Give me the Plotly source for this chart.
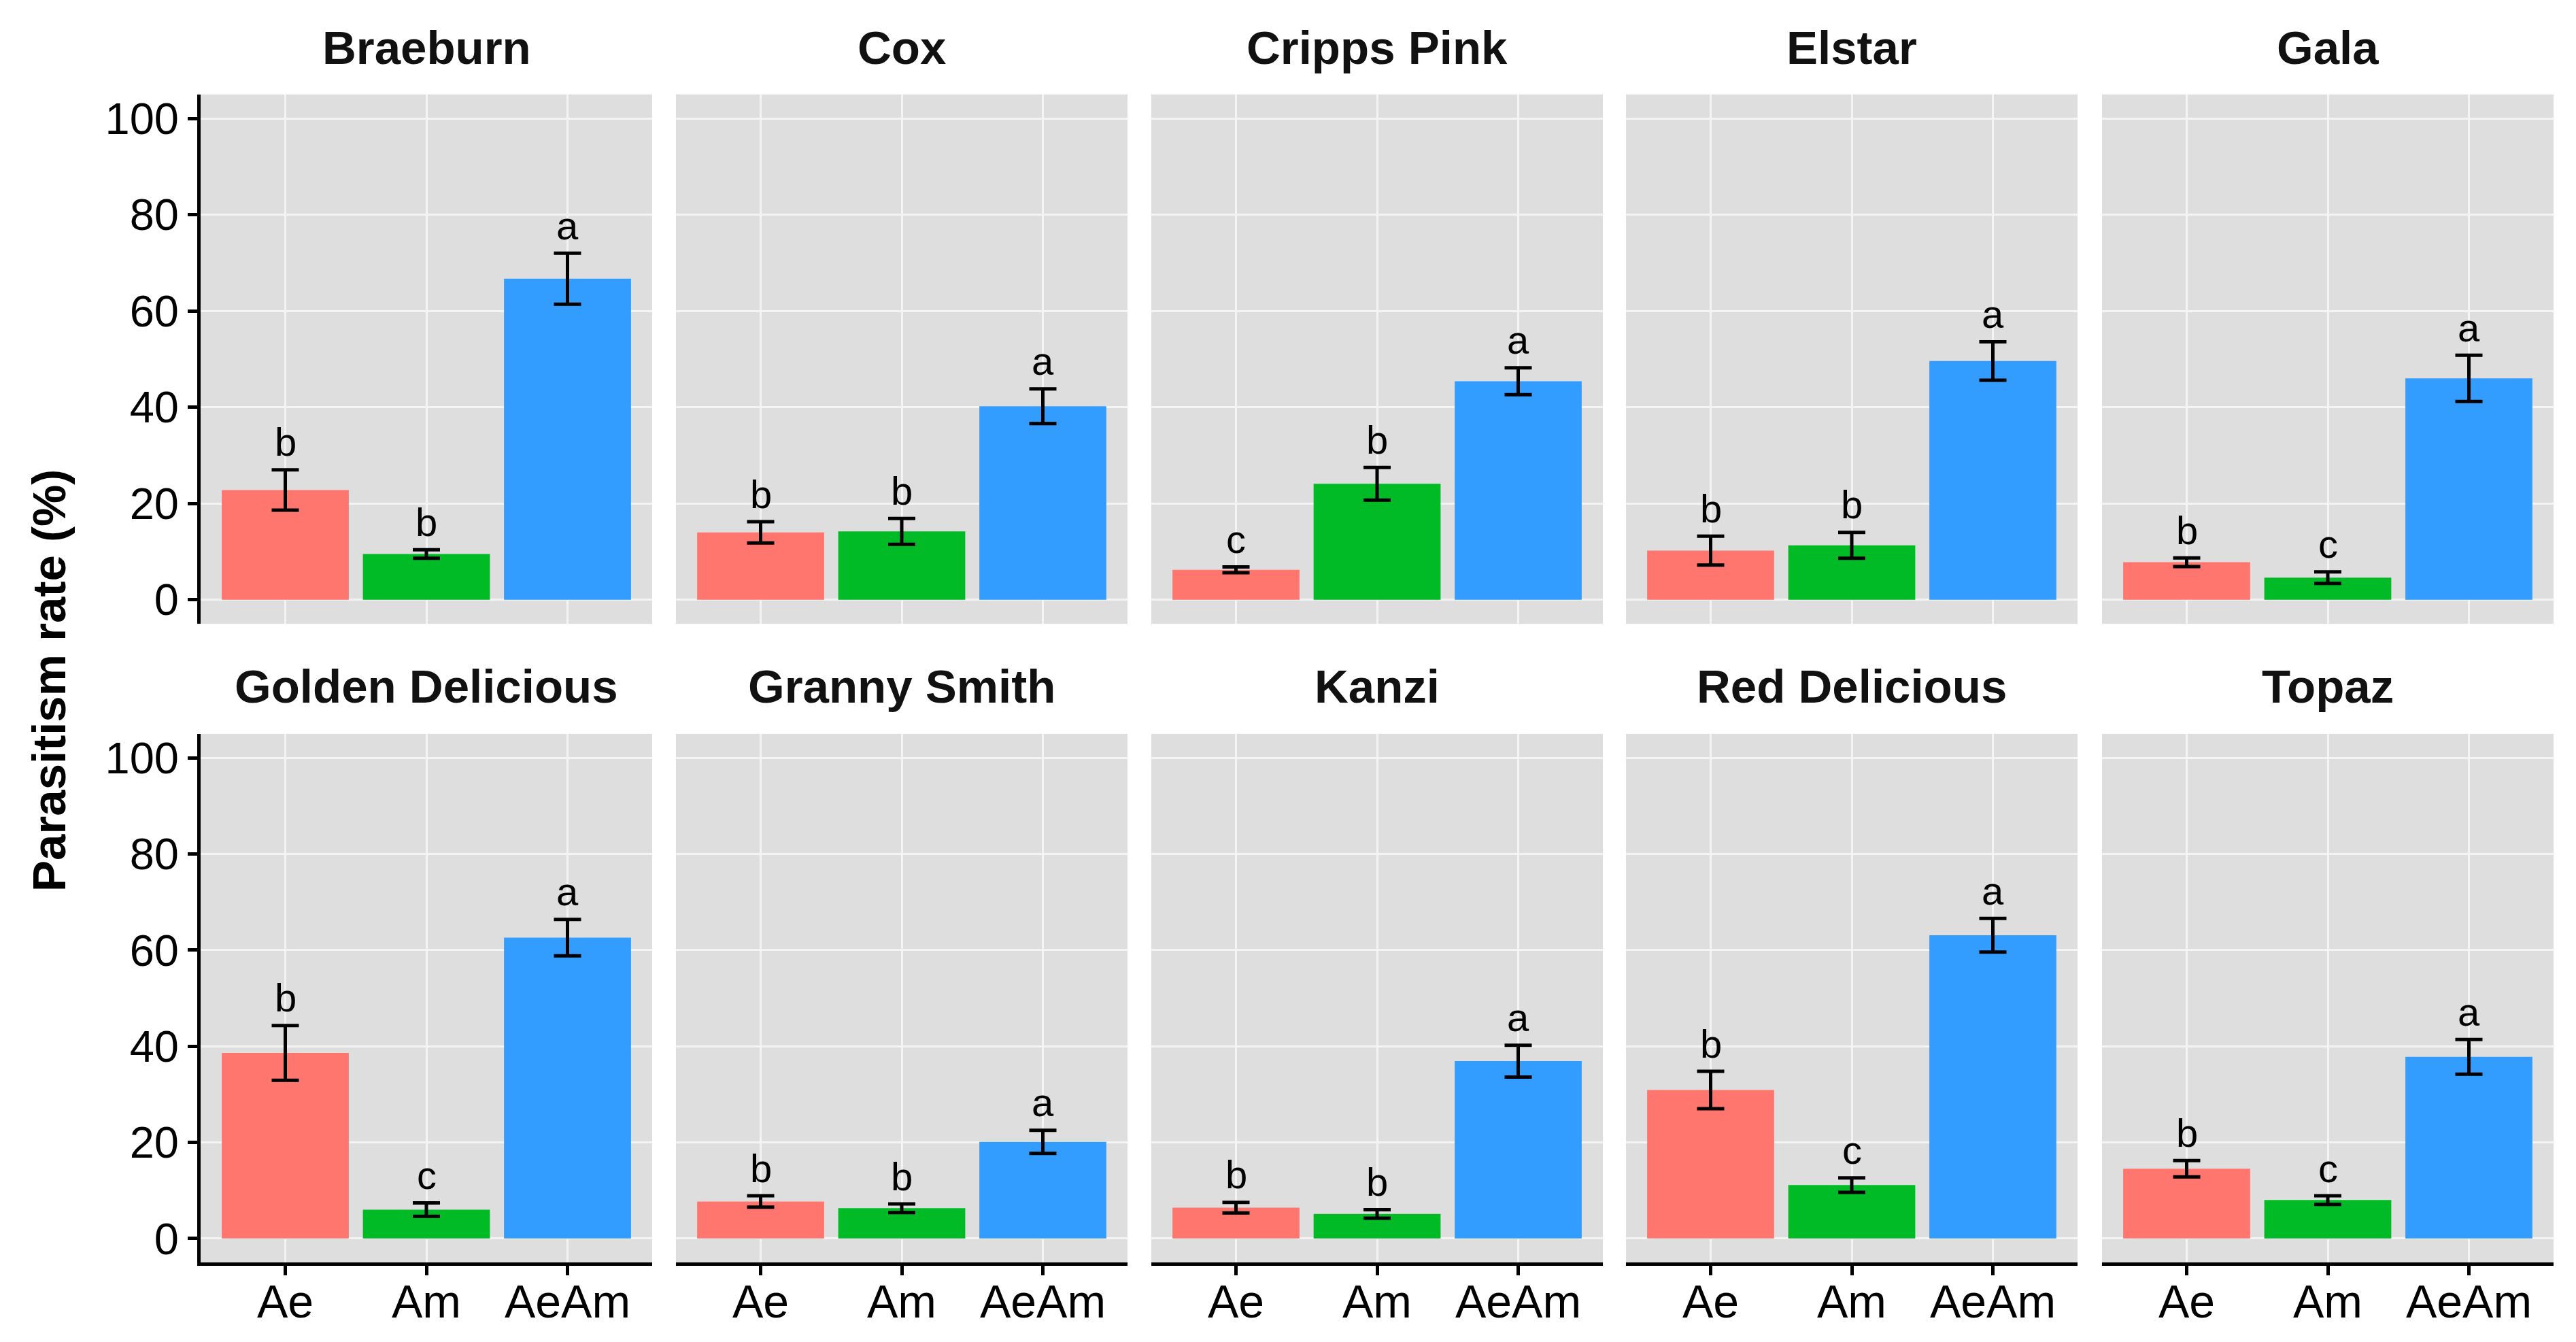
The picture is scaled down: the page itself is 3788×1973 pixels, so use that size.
import plotly.graph_objects as go

# ---------------- data ----------------
cultivars = ["Braeburn", "Cox", "Cripps Pink", "Elstar", "Gala",
             "Golden Delicious", "Granny Smith", "Kanzi", "Red Delicious", "Topaz"]
treatments = ["Ae", "Am", "AeAm"]

ae_mean = [22.8, 14.0, 6.2, 10.2, 7.8, 38.6, 7.7, 6.4, 30.9, 14.5]
ae_se = [4.2, 2.2, 0.6, 3.0, 0.9, 5.7, 1.2, 1.1, 3.9, 1.7]
am_mean = [9.5, 14.2, 24.1, 11.3, 4.6, 6.0, 6.3, 5.1, 11.1, 8.0]
am_se = [0.9, 2.7, 3.4, 2.7, 1.2, 1.4, 0.9, 0.9, 1.5, 0.9]
aeam_mean = [66.7, 40.2, 45.4, 49.6, 46.0, 62.6, 20.1, 36.9, 63.1, 37.8]
aeam_se = [5.3, 3.6, 2.8, 4.0, 4.8, 3.8, 2.4, 3.3, 3.5, 3.6]

ae_letter = ["b", "b", "c", "b", "b", "b", "b", "b", "b", "b"]
am_letter = ["b", "b", "b", "b", "c", "c", "b", "b", "c", "c"]
aeam_letter = ["a", "a", "a", "a", "a", "a", "a", "a", "a", "a"]

y_ticks = [0, 20, 40, 60, 80, 100]
y_title = "Parasitism rate (%)"

# ---------------- styling ----------------
W, H = 3788, 1973
colors = ["#FF766E", "#00BB25", "#339DFF"]
panel_bg = "#DEDEDE"
font_family = "Liberation Sans, Arial, Helvetica, sans-serif"
col_left = [287, 986, 1685, 2383, 3083]
panel_w = 664
row_top = [130, 1071]
row_bot = [909, 1849]
strip_y = [62, 1002]

fig = go.Figure()
annotations = []

for i, name in enumerate(cultivars):
    r, c = divmod(i, 5)
    n = i + 1
    xa = "x" if n == 1 else f"x{n}"
    ya = "y" if n == 1 else f"y{n}"
    means = [ae_mean[i], am_mean[i], aeam_mean[i]]
    ses = [ae_se[i], am_se[i], aeam_se[i]]
    letters = [ae_letter[i], am_letter[i], aeam_letter[i]]
    fig.add_trace(go.Bar(
        x=treatments, y=means, width=0.9,
        marker=dict(color=colors, line=dict(width=0)),
        error_y=dict(type="data", array=ses, visible=True,
                     color="black", thickness=5, width=20),
        xaxis=xa, yaxis=ya, showlegend=False, hoverinfo="x+y",
    ))
    for t, m, s, l in zip(treatments, means, ses, letters):
        annotations.append(dict(
            x=t, y=m + s + 0.9, xref=xa, yref=ya, text=l, showarrow=False,
            yanchor="bottom", xanchor="center",
            font=dict(family=font_family, size=58, color="black"),
        ))

    x0 = col_left[c] / W
    x1 = (col_left[c] + panel_w) / W
    y0 = 1 - row_bot[r] / H
    y1 = 1 - row_top[r] / H
    bottom = r == 1
    left = c == 0
    xkey = "xaxis" if n == 1 else f"xaxis{n}"
    ykey = "yaxis" if n == 1 else f"yaxis{n}"
    fig.update_layout({
        xkey: dict(
            domain=[x0, x1], anchor=ya, type="category",
            categoryorder="array", categoryarray=treatments,
            range=[-0.6, 2.6], showgrid=True, gridcolor="#F4F4F4", gridwidth=3,
            showline=bottom, linecolor="black", linewidth=5,
            ticks="outside" if bottom else "", ticklen=14, tickwidth=5, tickcolor="black",
            showticklabels=bottom, ticklabelstandoff=-20,
            tickfont=dict(family=font_family, size=68, color="black"),
            zeroline=False, fixedrange=True,
        ),
        ykey: dict(
            domain=[y0, y1], anchor=xa, range=[-5, 105],
            tickvals=y_ticks, showgrid=True, gridcolor="#F4F4F4", gridwidth=3,
            showline=left, linecolor="black", linewidth=5,
            ticks="outside" if left else "", ticklen=14, tickwidth=5, tickcolor="black",
            showticklabels=left, ticklabelstandoff=0,
            tickfont=dict(family=font_family, size=65, color="black"),
            zeroline=False, fixedrange=True,
        ),
    })
    annotations.append(dict(
        x=(col_left[c] + panel_w / 2) / W, y=1 - strip_y[r] / H,
        xref="paper", yref="paper", text=name, showarrow=False,
        xanchor="center", yanchor="middle",
        font=dict(family=font_family, size=69, color="#111111", weight="bold"),
    ))

annotations.append(dict(
    x=65 / W, y=1 - 993 / H, xref="paper", yref="paper", text=y_title,
    showarrow=False, textangle=-90, xanchor="center", yanchor="middle",
    font=dict(family=font_family, size=69, color="black", weight="bold"),
))

fig.update_layout(
    width=W, height=H, autosize=False,
    margin=dict(l=0, r=0, t=0, b=0),
    paper_bgcolor="white", plot_bgcolor=panel_bg,
    annotations=annotations, bargap=0.1,
)

fig.write_html("out.html", config={"displayModeBar": False})
